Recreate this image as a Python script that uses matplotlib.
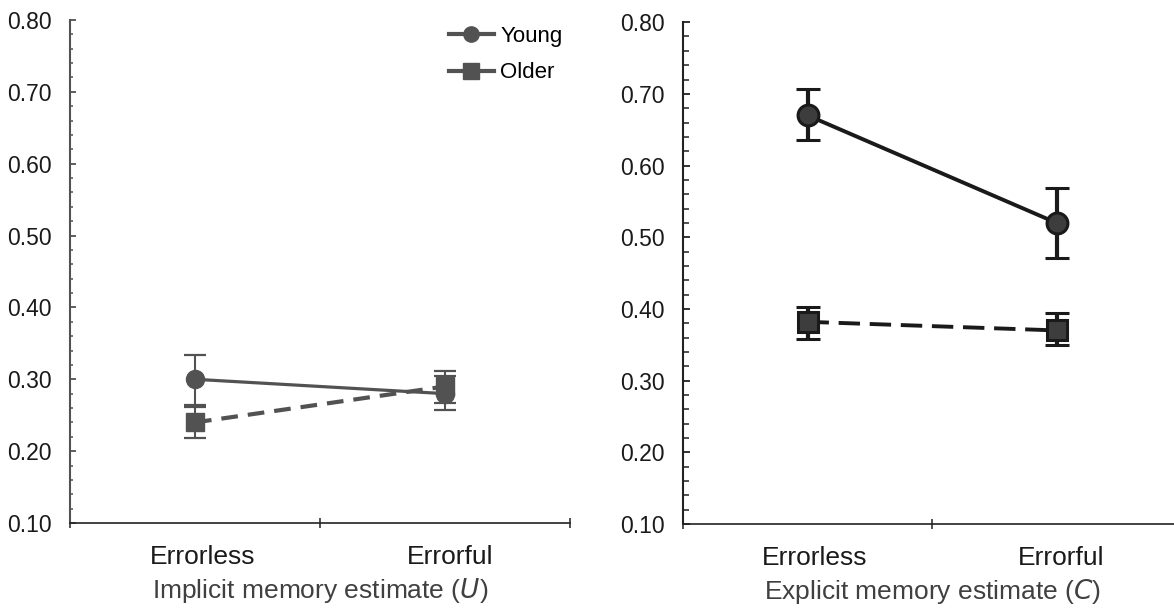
import numpy as np
import matplotlib
matplotlib.use("Agg")
import matplotlib.pyplot as plt
from matplotlib.lines import Line2D
from matplotlib.ticker import MultipleLocator, FixedLocator

plt.rcParams['font.family'] = ['Liberation Sans', 'DejaVu Sans']

conditions = ['Errorless', 'Errorful']
x_pos = [0.5, 1.5]
label_pos = [0.53, 1.52]

# implicit (U)
young_u = [0.300, 0.280]
young_u_lo = [0.264, 0.257]
young_u_hi = [0.334, 0.305]
older_u = [0.240, 0.290]
older_u_lo = [0.218, 0.267]
older_u_hi = [0.262, 0.311]

# explicit (C)
young_c = [0.670, 0.520]
young_c_lo = [0.635, 0.471]
young_c_hi = [0.707, 0.569]
older_c = [0.382, 0.370]
older_c_lo = [0.358, 0.349]
older_c_hi = [0.402, 0.394]

fig = plt.figure(figsize=(11.74, 6.12), dpi=100)
ax1 = fig.add_axes([0.0596, 0.1454, 0.4259, 0.822])
ax2 = fig.add_axes([0.5818, 0.1438, 0.4242, 0.820])


def err(vals, lo, hi):
    vals = np.array(vals)
    return [vals - np.array(lo), np.array(hi) - vals]


def style_axis(ax, xlabel, spine_col, maj_len, min_len):
    ax.set_xlim(0, 2)
    ax.set_ylim(0.1, 0.8)
    for s in ['top', 'right']:
        ax.spines[s].set_visible(False)
    ax.spines['left'].set_color(spine_col)
    ax.spines['left'].set_linewidth(1.5)
    ax.spines['bottom'].set_color('#222222')
    ax.spines['bottom'].set_linewidth(1.2)
    ax.yaxis.set_minor_locator(MultipleLocator(0.02))
    ticks = np.arange(0.1, 0.81, 0.1)
    ax.set_yticks(ticks)
    ax.set_yticklabels(['%.2f' % v for v in ticks])
    ax.tick_params(axis='y', which='major', direction='in', length=maj_len, width=1.3,
                   color=spine_col, labelsize=16.5, pad=13, labelcolor='#1a1a1a')
    ax.tick_params(axis='y', which='minor', direction='in', length=min_len, width=1.1,
                   color=spine_col)
    ax.xaxis.set_major_locator(FixedLocator([0, 1, 2]))
    ax.xaxis.set_minor_locator(FixedLocator(label_pos))
    ax.set_xticklabels(['', '', ''])
    ax.set_xticklabels(conditions, minor=True)
    ax.tick_params(axis='x', which='major', direction='inout', length=7, width=1.1,
                   color='#222222')
    ax.tick_params(axis='x', which='minor', length=0, labelsize=19, pad=16,
                   labelcolor='#1a1a1a')
    ax.set_xlabel(xlabel, fontsize=19, color='#404040', labelpad=5)


# left panel: implicit estimate
gray = '#525252'
ax1.errorbar(x_pos, young_u, yerr=err(young_u, young_u_lo, young_u_hi),
             color=gray, lw=2.3, marker='o', ms=13, mfc=gray, mec=gray,
             elinewidth=1.5, capsize=8, capthick=1.6, zorder=3)
ax1.errorbar(x_pos, older_u, yerr=err(older_u, older_u_lo, older_u_hi),
             color=gray, lw=3, ls=(0, (4, 2.4)), marker='s', ms=12.5, mfc=gray, mec=gray,
             elinewidth=1.5, capsize=8, capthick=1.6, zorder=3)
style_axis(ax1, 'Implicit memory estimate ($\\it{U}$)', gray, 4, 2.5)
handles = [Line2D([], [], color=gray, lw=3, marker='o', ms=11, label='Young'),
           Line2D([], [], color=gray, lw=3, marker='s', ms=11, label='Older')]
ax1.legend(handles=handles, loc='upper right', bbox_to_anchor=(1.025, 1.028),
           frameon=False, fontsize=16, handlelength=2.0, handletextpad=0.3,
           labelspacing=0.7)

# right panel: explicit estimate
dark = '#1a1a1a'
face = '#3d3d3d'
ax2.errorbar(x_pos, young_c, yerr=err(young_c, young_c_lo, young_c_hi),
             color=dark, lw=2.8, marker='o', ms=15, mfc=face, mec=dark, mew=2.2,
             elinewidth=3, capsize=8.5, capthick=3, zorder=3)
ax2.errorbar(x_pos, older_c, yerr=err(older_c, older_c_lo, older_c_hi),
             color=dark, lw=2.8, ls=(0, (5.5, 2.5)), marker='s', ms=14, mfc=face, mec=dark,
             mew=2.2, elinewidth=3, capsize=8.5, capthick=3, zorder=3)
style_axis(ax2, 'Explicit memory estimate ($\\it{C}$)', '#222222', 5, 4)

fig.savefig('out.png', dpi=100)
